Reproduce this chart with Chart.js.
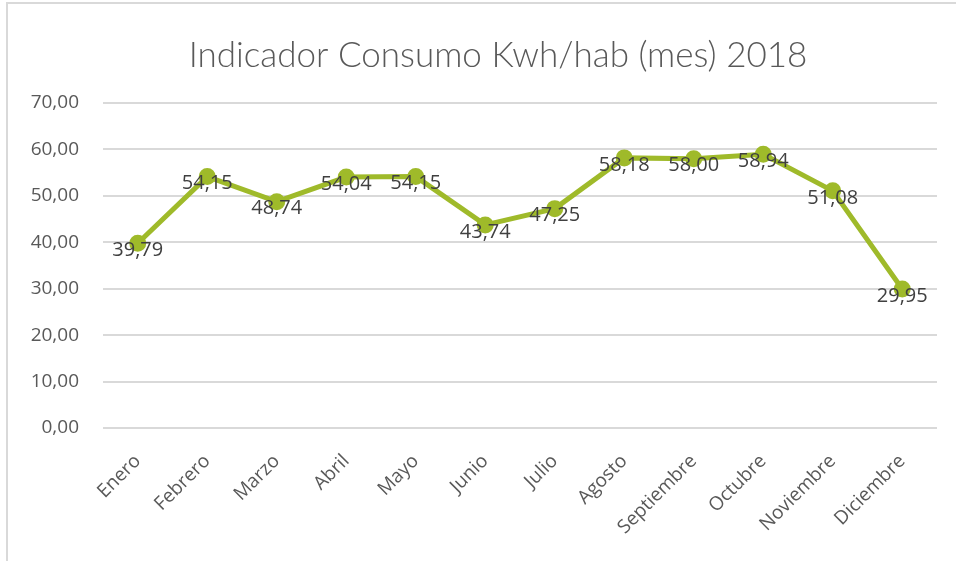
<!DOCTYPE html>
<html>
<head>
<meta charset="utf-8">
<script src="https://cdn.jsdelivr.net/npm/chart.js@4/dist/chart.umd.min.js"></script>
<style>
  html, body { margin: 0; padding: 0; background: #fff; }
  #frame { position: absolute; left: 6px; top: 2px; width: 1000px; height: 600px; border: 2px solid #d9d9d9; box-sizing: border-box; }
  #wrap { position: absolute; left: 0; top: 0; width: 956px; height: 561px; }
</style>
</head>
<body>
<div id="frame"></div>
<div id="wrap"><canvas id="c" width="956" height="561"></canvas></div>
<script>
const months = ["Enero","Febrero","Marzo","Abril","Mayo","Junio","Julio","Agosto","Septiembre","Octubre","Noviembre","Diciembre"];
const consumo = [39.79, 54.15, 48.74, 54.04, 54.15, 43.74, 47.25, 58.18, 58.00, 58.94, 51.08, 29.95];
const yTicks = [0, 10, 20, 30, 40, 50, 60, 70];
const titleText = "Indicador Consumo Kwh/hab (mes) 2018";

const fmt = v => v.toFixed(2).replace('.', ',');

const labelPlugin = {
  id: 'valueLabels',
  afterDatasetsDraw(chart) {
    const ctx = chart.ctx;
    const meta = chart.getDatasetMeta(0);
    ctx.save();
    ctx.font = '20px "Open Sans", sans-serif';
    ctx.fillStyle = '#404040';
    ctx.textAlign = 'center';
    ctx.textBaseline = 'middle';
    meta.data.forEach((pt, i) => {
      ctx.fillText(fmt(chart.data.datasets[0].data[i]), pt.x, pt.y + 7);
    });
    ctx.restore();
  }
};

const titlePlugin = {
  id: 'customTitle',
  afterDraw(chart) {
    const ctx = chart.ctx;
    ctx.save();
    ctx.font = '300 35px Lato, sans-serif';
    ctx.fillStyle = '#595959';
    ctx.textAlign = 'center';
    ctx.textBaseline = 'alphabetic';
    ctx.fillText(titleText, 498, 67);
    ctx.restore();
  }
};

new Chart(document.getElementById('c'), {
  type: 'line',
  data: {
    labels: months,
    datasets: [{
      data: consumo,
      borderColor: '#9fba2a',
      backgroundColor: '#9fba2a',
      borderWidth: 5,
      pointRadius: 6,
      pointHoverRadius: 6,
      pointBackgroundColor: '#9fba2a',
      pointBorderColor: '#9fba2a',
      tension: 0
    }]
  },
  options: {
    responsive: false,
    animation: false,
    devicePixelRatio: 1,
    layout: { padding: { left: 0, right: 19, top: 103, bottom: 0 } },
    plugins: {
      legend: { display: false },
      tooltip: { enabled: false },
      title: { display: false }
    },
    scales: {
      x: {
        offset: true,
        grid: { display: false },
        border: { display: false },
        ticks: {
          color: '#595959',
          font: { family: 'Open Sans', size: 19 },
          maxRotation: 45,
          minRotation: 45,
          padding: 14
        },
        afterFit(s) { s.height = 133; }
      },
      y: {
        min: 0,
        max: 70,
        afterBuildTicks(s) { s.ticks = yTicks.map(v => ({ value: v })); },
        grid: { color: '#d9d9d9', lineWidth: 2, drawTicks: false },
        border: { display: false },
        ticks: {
          color: '#595959',
          font: { family: 'Open Sans', size: 19 },
          padding: 24,
          callback: v => fmt(v)
        },
        afterFit(s) { s.width = 103; }
      }
    }
  },
  plugins: [labelPlugin, titlePlugin]
});
</script>
</body>
</html>
